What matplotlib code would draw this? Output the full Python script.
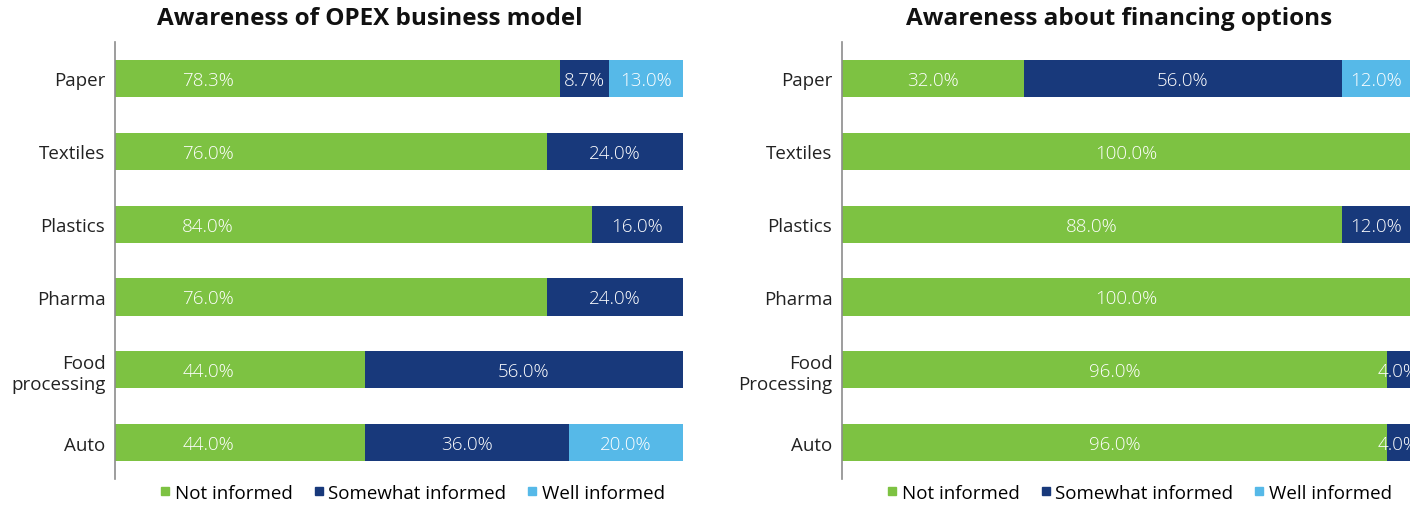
import matplotlib
matplotlib.use('Agg')
import matplotlib.pyplot as plt
from matplotlib.lines import Line2D

plt.rcParams['font.family'] = ['Open Sans', 'DejaVu Sans']

# data (top to bottom as drawn)
opex_cats = ['Paper', 'Textiles', 'Plastics', 'Pharma', 'Food\nprocessing', 'Auto']
opex_not = [78.3, 76.0, 84.0, 76.0, 44.0, 44.0]
opex_some = [8.7, 24.0, 16.0, 24.0, 56.0, 36.0]
opex_well = [13.0, 0, 0, 0, 0, 20.0]

fin_cats = ['Paper', 'Textiles', 'Plastics', 'Pharma', 'Food\nProcessing', 'Auto']
fin_not = [32.0, 100.0, 88.0, 100.0, 96.0, 96.0]
fin_some = [56.0, 0, 12.0, 0, 4.0, 4.0]
fin_well = [12.0, 0, 0, 0, 0, 0]

series_names = ['Not informed', 'Somewhat informed', 'Well informed']
colors = ['#7DC242', '#18397B', '#56B9E8']

fig = plt.figure(figsize=(14.24, 5.06), dpi=100)
ax1 = fig.add_axes([0.0808, 0.0513, 0.3988, 0.8637])
ax2 = fig.add_axes([0.5913, 0.0513, 0.3988, 0.8637])


def draw(ax, cats, series, green_fixed):
    y = list(range(len(cats)))
    left = [0] * len(cats)
    for k, vals in enumerate(series):
        ax.barh(y, vals, left=left, height=0.51, color=colors[k], edgecolor='none')
        for i, v in enumerate(vals):
            if v <= 0:
                continue
            xc = left[i] + v / 2
            if k == 0 and green_fixed is not None:
                xc = green_fixed
            ax.text(xc, i + 0.02, '%.1f%%' % v, ha='center', va='center',
                    color='white', fontsize=13.5, fontweight='light')
        left = [a + b for a, b in zip(left, vals)]
    ax.set_yticks(y)
    ax.set_yticklabels(cats, fontsize=13.5, color='#222222')
    ax.set_xlim(0, 100)
    ax.set_ylim(len(cats) - 0.5, -0.5)
    ax.set_xticks([])
    ax.tick_params(axis='y', length=0, pad=7)
    for s in ['top', 'right', 'bottom']:
        ax.spines[s].set_visible(False)
    ax.spines['left'].set_color('#8C8C8C')
    ax.spines['left'].set_linewidth(1.2)
    handles = [Line2D([0], [0], marker='s', linestyle='none', markersize=6,
                      color=c) for c in colors]
    ax.legend(handles, series_names, loc='center', ncol=3,
              bbox_to_anchor=(0.52, -0.032), frameon=False, fontsize=13.5,
              handletextpad=0.0, columnspacing=0.9, handlelength=1.0,
              borderpad=0.1)


draw(ax1, opex_cats, [opex_not, opex_some, opex_well], 16.4)
draw(ax2, fin_cats, [fin_not, fin_some, fin_well], None)

fig.text(0.26, 0.962, 'Awareness of OPEX business model', ha='center', va='center',
         fontsize=17.5, fontweight='bold', color='#111111')
fig.text(0.786, 0.962, 'Awareness about financing options', ha='center', va='center',
         fontsize=17.5, fontweight='bold', color='#111111')

fig.savefig('out.png', dpi=100)
